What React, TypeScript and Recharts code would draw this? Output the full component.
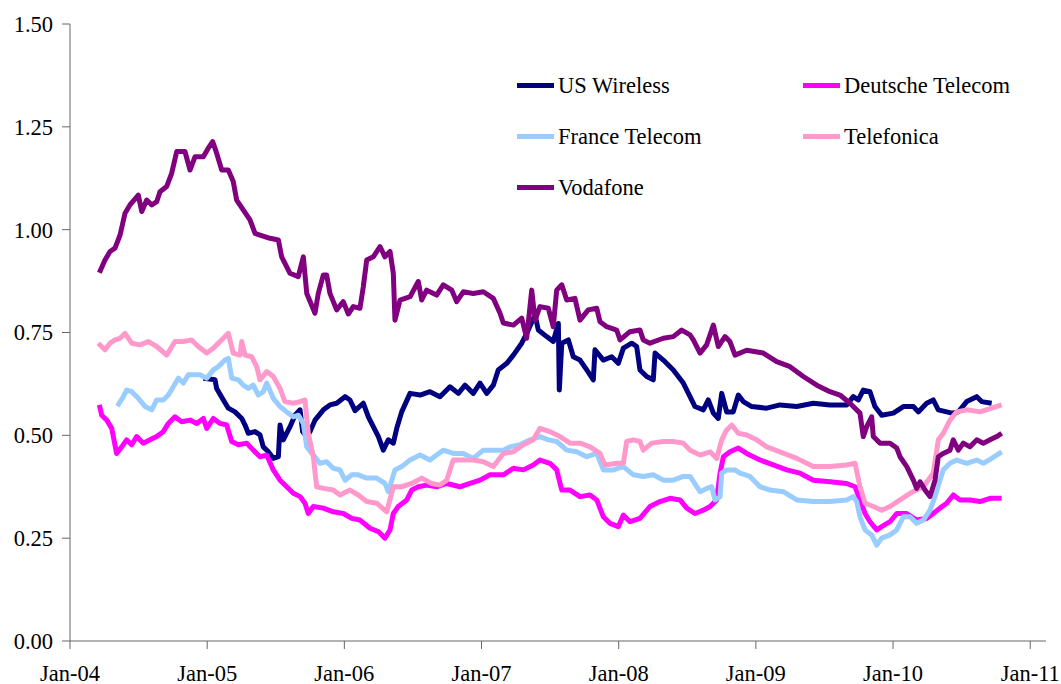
import React from 'react';
import { LineChart, Line, XAxis, YAxis, Legend } from 'recharts';

const FONT = "'Liberation Serif', 'DejaVu Serif', 'Noto Serif', 'Times New Roman', Times, serif";

const seriesNames = ['US Wireless', 'Deutsche Telecom', 'France Telecom', 'Telefonica', 'Vodafone'];
const seriesColors = ['#000080', '#FF00FF', '#99CCFF', '#FF99CC', '#800080'];

const xTicks = [2004, 2005, 2006, 2007, 2008, 2009, 2010, 2011];
const yTicks = [0, 0.25, 0.5, 0.75, 1.0, 1.25, 1.5];

const usWirelessDates = [
  2004.972, 2005.057, 2005.069, 2005.118, 2005.154, 2005.203, 2005.252, 2005.276, 2005.300, 2005.349,
  2005.385, 2005.409, 2005.446, 2005.482, 2005.519, 2005.531, 2005.555, 2005.604, 2005.640, 2005.677,
  2005.696, 2005.726, 2005.750, 2005.786, 2005.847, 2005.895, 2005.944, 2006.005, 2006.041, 2006.078,
  2006.138, 2006.175, 2006.211, 2006.248, 2006.284, 2006.320, 2006.357, 2006.382, 2006.418, 2006.479,
  2006.552, 2006.624, 2006.697, 2006.770, 2006.831, 2006.880, 2006.940, 2006.989, 2007.038, 2007.086,
  2007.122, 2007.184, 2007.232, 2007.293, 2007.341, 2007.390, 2007.414, 2007.475, 2007.523, 2007.560,
  2007.567, 2007.585, 2007.633, 2007.669, 2007.718, 2007.767, 2007.815, 2007.827, 2007.888, 2007.949,
  2007.997, 2008.034, 2008.095, 2008.131, 2008.155, 2008.204, 2008.252, 2008.265, 2008.325, 2008.398,
  2008.471, 2008.520, 2008.556, 2008.617, 2008.653, 2008.690, 2008.726, 2008.751, 2008.787, 2008.835,
  2008.872, 2008.908, 2008.970, 2009.079, 2009.176, 2009.298, 2009.419, 2009.540, 2009.662, 2009.710,
  2009.747, 2009.783, 2009.832, 2009.868, 2009.917, 2010.002, 2010.075, 2010.148, 2010.184, 2010.245,
  2010.293, 2010.330, 2010.391, 2010.428, 2010.476, 2010.537, 2010.610, 2010.646, 2010.719,
];
const usWirelessValues = [
  0.639, 0.635, 0.614, 0.586, 0.566, 0.557, 0.541, 0.525, 0.505, 0.509,
  0.501, 0.472, 0.46, 0.444, 0.448, 0.525, 0.489, 0.521, 0.549, 0.562,
  0.509, 0.497, 0.509, 0.537, 0.562, 0.574, 0.578, 0.594, 0.586, 0.56,
  0.578, 0.545, 0.521, 0.497, 0.464, 0.489, 0.481, 0.517, 0.557, 0.602,
  0.598, 0.606, 0.594, 0.618, 0.602, 0.622, 0.602, 0.627, 0.602, 0.622,
  0.659, 0.675, 0.695, 0.724, 0.756, 0.793, 0.756, 0.74, 0.728, 0.772,
  0.61, 0.724, 0.732, 0.691, 0.683, 0.659, 0.635, 0.708, 0.683, 0.691,
  0.675, 0.712, 0.724, 0.716, 0.659, 0.643, 0.635, 0.70, 0.683, 0.659,
  0.627, 0.594, 0.57, 0.562, 0.586, 0.554, 0.541, 0.602, 0.557, 0.557,
  0.598, 0.582, 0.57, 0.566, 0.574, 0.57, 0.578, 0.574, 0.574, 0.594,
  0.586, 0.61, 0.606, 0.57, 0.549, 0.554, 0.57, 0.57, 0.557, 0.578,
  0.586, 0.562, 0.557, 0.554, 0.557, 0.582, 0.594, 0.582, 0.578,
];

const deutscheDates = [
  2004.214, 2004.231, 2004.268, 2004.304, 2004.340, 2004.377, 2004.413, 2004.450, 2004.486, 2004.534,
  2004.583, 2004.632, 2004.680, 2004.717, 2004.765, 2004.814, 2004.875, 2004.924, 2004.972, 2004.997,
  2005.045, 2005.094, 2005.142, 2005.179, 2005.227, 2005.288, 2005.336, 2005.385, 2005.434, 2005.482,
  2005.531, 2005.580, 2005.628, 2005.677, 2005.713, 2005.737, 2005.774, 2005.847, 2005.919, 2005.992,
  2006.054, 2006.114, 2006.187, 2006.248, 2006.296, 2006.333, 2006.357, 2006.393, 2006.455, 2006.491,
  2006.539, 2006.600, 2006.673, 2006.746, 2006.843, 2006.916, 2006.989, 2007.062, 2007.159, 2007.232,
  2007.305, 2007.377, 2007.426, 2007.499, 2007.548, 2007.585, 2007.645, 2007.718, 2007.791, 2007.840,
  2007.888, 2007.937, 2007.997, 2008.034, 2008.082, 2008.155, 2008.228, 2008.301, 2008.374, 2008.447,
  2008.496, 2008.556, 2008.617, 2008.666, 2008.714, 2008.739, 2008.763, 2008.811, 2008.872, 2008.933,
  2009.030, 2009.127, 2009.225, 2009.322, 2009.419, 2009.540, 2009.662, 2009.723, 2009.759, 2009.796,
  2009.832, 2009.881, 2009.917, 2009.978, 2010.027, 2010.100, 2010.172, 2010.245, 2010.293, 2010.342,
  2010.391, 2010.439, 2010.488, 2010.561, 2010.634, 2010.707, 2010.792,
];
const deutscheValues = [
  0.574, 0.549, 0.537, 0.517, 0.456, 0.472, 0.489, 0.477, 0.497, 0.481,
  0.489, 0.497, 0.509, 0.529, 0.545, 0.533, 0.537, 0.529, 0.541, 0.517,
  0.541, 0.529, 0.525, 0.485, 0.477, 0.481, 0.464, 0.448, 0.452, 0.416,
  0.391, 0.375, 0.359, 0.351, 0.335, 0.31, 0.327, 0.323, 0.314, 0.31,
  0.298, 0.294, 0.274, 0.266, 0.25, 0.27, 0.31, 0.327, 0.343, 0.367,
  0.375, 0.379, 0.375, 0.383, 0.375, 0.383, 0.391, 0.404, 0.404, 0.42,
  0.416, 0.428, 0.44, 0.432, 0.416, 0.367, 0.367, 0.351, 0.355, 0.343,
  0.302, 0.286, 0.278, 0.306, 0.29, 0.298, 0.327, 0.339, 0.347, 0.343,
  0.323, 0.31, 0.318, 0.327, 0.343, 0.408, 0.448, 0.46, 0.469, 0.456,
  0.44, 0.428, 0.416, 0.408, 0.391, 0.387, 0.383, 0.375, 0.343, 0.31,
  0.29, 0.27, 0.278, 0.29, 0.31, 0.31, 0.294, 0.298, 0.31, 0.323,
  0.335, 0.355, 0.343, 0.343, 0.339, 0.347, 0.347,
];

const franceDates = [
  2004.345, 2004.389, 2004.413, 2004.450, 2004.498, 2004.547, 2004.596, 2004.632, 2004.680, 2004.717,
  2004.753, 2004.790, 2004.826, 2004.862, 2004.948, 2004.997, 2005.045, 2005.081, 2005.130, 2005.154,
  2005.179, 2005.227, 2005.263, 2005.300, 2005.336, 2005.373, 2005.409, 2005.434, 2005.482, 2005.531,
  2005.580, 2005.628, 2005.664, 2005.701, 2005.726, 2005.774, 2005.823, 2005.871, 2005.919, 2005.968,
  2006.005, 2006.054, 2006.102, 2006.163, 2006.236, 2006.296, 2006.320, 2006.369, 2006.418, 2006.479,
  2006.552, 2006.624, 2006.673, 2006.721, 2006.794, 2006.867, 2006.940, 2007.013, 2007.086, 2007.159,
  2007.208, 2007.281, 2007.353, 2007.426, 2007.487, 2007.548, 2007.621, 2007.694, 2007.767, 2007.840,
  2007.888, 2007.961, 2008.034, 2008.107, 2008.179, 2008.252, 2008.325, 2008.398, 2008.471, 2008.520,
  2008.593, 2008.641, 2008.678, 2008.702, 2008.739, 2008.751, 2008.787, 2008.848, 2008.884, 2008.957,
  2009.030, 2009.103, 2009.200, 2009.298, 2009.419, 2009.540, 2009.662, 2009.710, 2009.735, 2009.759,
  2009.796, 2009.844, 2009.881, 2009.917, 2009.978, 2010.027, 2010.075, 2010.124, 2010.172, 2010.221,
  2010.269, 2010.306, 2010.342, 2010.366, 2010.415, 2010.464, 2010.537, 2010.610, 2010.658, 2010.719,
  2010.792,
];
const franceValues = [
  0.571, 0.594, 0.61, 0.606, 0.59, 0.57, 0.562, 0.586, 0.586, 0.598,
  0.618, 0.639, 0.627, 0.647, 0.647, 0.639, 0.659, 0.667, 0.683, 0.687,
  0.639, 0.635, 0.622, 0.614, 0.622, 0.598, 0.606, 0.627, 0.59, 0.57,
  0.557, 0.545, 0.549, 0.529, 0.472, 0.452, 0.432, 0.436, 0.42, 0.416,
  0.391, 0.404, 0.404, 0.396, 0.396, 0.383, 0.363, 0.416, 0.424, 0.44,
  0.452, 0.44, 0.452, 0.464, 0.456, 0.456, 0.444, 0.464, 0.464, 0.464,
  0.472, 0.477, 0.489, 0.497, 0.489, 0.485, 0.464, 0.46, 0.448, 0.456,
  0.416, 0.416, 0.424, 0.404, 0.40, 0.404, 0.391, 0.391, 0.40, 0.40,
  0.363, 0.371, 0.375, 0.343, 0.351, 0.408, 0.416, 0.416, 0.408, 0.40,
  0.375, 0.367, 0.363, 0.343, 0.339, 0.339, 0.343, 0.351, 0.339, 0.302,
  0.27, 0.258, 0.233, 0.25, 0.258, 0.27, 0.302, 0.302, 0.286, 0.294,
  0.318, 0.351, 0.391, 0.416, 0.432, 0.44, 0.432, 0.44, 0.432, 0.444,
  0.46,
];

const telefonicaDates = [
  2004.206, 2004.255, 2004.292, 2004.328, 2004.365, 2004.401, 2004.450, 2004.510, 2004.571, 2004.632,
  2004.705, 2004.765, 2004.826, 2004.887, 2004.935, 2004.997, 2005.045, 2005.094, 2005.154, 2005.190,
  2005.239, 2005.252, 2005.276, 2005.325, 2005.361, 2005.385, 2005.434, 2005.482, 2005.531, 2005.567,
  2005.628, 2005.677, 2005.713, 2005.737, 2005.774, 2005.798, 2005.847, 2005.919, 2005.968, 2006.041,
  2006.102, 2006.163, 2006.236, 2006.309, 2006.357, 2006.418, 2006.491, 2006.564, 2006.637, 2006.697,
  2006.746, 2006.794, 2006.867, 2006.940, 2007.013, 2007.086, 2007.159, 2007.232, 2007.305, 2007.377,
  2007.426, 2007.499, 2007.572, 2007.645, 2007.718, 2007.791, 2007.864, 2007.900, 2007.985, 2008.034,
  2008.058, 2008.107, 2008.155, 2008.179, 2008.241, 2008.325, 2008.398, 2008.471, 2008.520, 2008.593,
  2008.666, 2008.714, 2008.751, 2008.787, 2008.824, 2008.872, 2008.933, 2009.006, 2009.079, 2009.176,
  2009.298, 2009.419, 2009.540, 2009.662, 2009.723, 2009.759, 2009.796, 2009.856, 2009.917, 2009.978,
  2010.051, 2010.124, 2010.172, 2010.221, 2010.293, 2010.330, 2010.366, 2010.415, 2010.464, 2010.537,
  2010.634, 2010.719, 2010.792,
];
const telefonicaValues = [
  0.724, 0.708, 0.724, 0.732, 0.736, 0.748, 0.724, 0.72, 0.728, 0.716,
  0.695, 0.728, 0.728, 0.732, 0.716, 0.70, 0.712, 0.728, 0.748, 0.70,
  0.695, 0.728, 0.695, 0.691, 0.667, 0.635, 0.655, 0.643, 0.614, 0.582,
  0.578, 0.582, 0.586, 0.505, 0.448, 0.375, 0.371, 0.367, 0.355, 0.367,
  0.355, 0.339, 0.335, 0.314, 0.375, 0.375, 0.383, 0.396, 0.383, 0.379,
  0.391, 0.44, 0.44, 0.44, 0.436, 0.424, 0.456, 0.46, 0.477, 0.489,
  0.517, 0.509, 0.497, 0.481, 0.481, 0.472, 0.456, 0.428, 0.432, 0.432,
  0.485, 0.489, 0.485, 0.464, 0.481, 0.485, 0.485, 0.481, 0.464, 0.452,
  0.46, 0.444, 0.489, 0.513, 0.525, 0.505, 0.501, 0.489, 0.472, 0.46,
  0.444, 0.424, 0.424, 0.428, 0.432, 0.375, 0.335, 0.327, 0.318, 0.327,
  0.343, 0.359, 0.367, 0.375, 0.408, 0.489, 0.505, 0.537, 0.557, 0.562,
  0.557, 0.566, 0.574,
];

const vodafoneDates = [
  2004.214, 2004.255, 2004.292, 2004.328, 2004.365, 2004.401, 2004.437, 2004.498, 2004.523, 2004.559,
  2004.596, 2004.632, 2004.656, 2004.705, 2004.741, 2004.778, 2004.838, 2004.875, 2004.911, 2004.972,
  2005.008, 2005.040, 2005.069, 2005.106, 2005.154, 2005.190, 2005.215, 2005.263, 2005.312, 2005.349,
  2005.385, 2005.458, 2005.519, 2005.543, 2005.604, 2005.664, 2005.701, 2005.726, 2005.786, 2005.810,
  2005.847, 2005.871, 2005.895, 2005.944, 2005.992, 2006.029, 2006.065, 2006.114, 2006.138, 2006.163,
  2006.211, 2006.260, 2006.296, 2006.333, 2006.357, 2006.369, 2006.406, 2006.479, 2006.539, 2006.564,
  2006.600, 2006.673, 2006.721, 2006.783, 2006.819, 2006.867, 2006.940, 2007.013, 2007.086, 2007.135,
  2007.159, 2007.232, 2007.293, 2007.329, 2007.366, 2007.390, 2007.426, 2007.487, 2007.523, 2007.548,
  2007.585, 2007.621, 2007.681, 2007.718, 2007.778, 2007.840, 2007.864, 2007.913, 2007.985, 2008.010,
  2008.082, 2008.155, 2008.179, 2008.228, 2008.325, 2008.398, 2008.459, 2008.520, 2008.544, 2008.593,
  2008.641, 2008.690, 2008.726, 2008.775, 2008.811, 2008.848, 2008.933, 2009.054, 2009.152, 2009.249,
  2009.346, 2009.444, 2009.540, 2009.613, 2009.686, 2009.759, 2009.783, 2009.808, 2009.844, 2009.856,
  2009.905, 2009.978, 2010.027, 2010.051, 2010.100, 2010.148, 2010.172, 2010.197, 2010.233, 2010.269,
  2010.306, 2010.330, 2010.366, 2010.415, 2010.439, 2010.476, 2010.512, 2010.561, 2010.610, 2010.658,
  2010.707, 2010.756, 2010.792,
];
const vodafoneValues = [
  0.895, 0.926, 0.947, 0.955, 0.987, 1.04, 1.06, 1.084, 1.044, 1.072,
  1.06, 1.068, 1.092, 1.105, 1.137, 1.19, 1.19, 1.145, 1.177, 1.177,
  1.198, 1.214, 1.186, 1.145, 1.145, 1.117, 1.072, 1.048, 1.024, 0.991,
  0.987, 0.979, 0.975, 0.934, 0.894, 0.886, 0.934, 0.845, 0.797, 0.845,
  0.89, 0.89, 0.845, 0.805, 0.825, 0.795, 0.813, 0.809, 0.861, 0.926,
  0.934, 0.959, 0.934, 0.947, 0.894, 0.78, 0.829, 0.837, 0.874, 0.829,
  0.853, 0.841, 0.866, 0.853, 0.825, 0.849, 0.845, 0.849, 0.833, 0.797,
  0.773, 0.768, 0.785, 0.736, 0.853, 0.78, 0.813, 0.809, 0.764, 0.853,
  0.866, 0.829, 0.833, 0.78, 0.805, 0.809, 0.776, 0.764, 0.756, 0.732,
  0.752, 0.756, 0.732, 0.724, 0.736, 0.74, 0.756, 0.744, 0.732, 0.70,
  0.72, 0.768, 0.716, 0.74, 0.728, 0.695, 0.707, 0.70, 0.679, 0.667,
  0.643, 0.622, 0.606, 0.598, 0.578, 0.554, 0.497, 0.521, 0.545, 0.497,
  0.481, 0.481, 0.469, 0.448, 0.424, 0.391, 0.371, 0.387, 0.367, 0.351,
  0.391, 0.448, 0.456, 0.464, 0.489, 0.464, 0.481, 0.472, 0.489, 0.481,
  0.489, 0.497, 0.505,
];

const zip = (dates: number[], values: number[]) => {
  const n = Math.min(dates.length, values.length);
  const out: { t: number; v: number }[] = [];
  for (let i = 0; i < n; i++) out.push({ t: dates[i], v: values[i] });
  return out;
};

const seriesData = [
  zip(usWirelessDates, usWirelessValues),
  zip(deutscheDates, deutscheValues),
  zip(franceDates, franceValues),
  zip(telefonicaDates, telefonicaValues),
  zip(vodafoneDates, vodafoneValues),
];

const renderLegend = () => (
  <div
    style={{
      display: 'grid',
      gridTemplateColumns: '286px 250px',
      gridAutoRows: '51px',
      fontFamily: FONT,
      fontSize: 22.5,
      color: '#000',
    }}
  >
    {seriesNames.map((n, i) => (
      <div key={n} style={{ display: 'flex', alignItems: 'center', whiteSpace: 'nowrap' }}>
        <span style={{ display: 'inline-block', width: 37, height: 5, background: seriesColors[i], marginRight: 4 }} />
        <span>{n}</span>
      </div>
    ))}
  </div>
);

const tickStyle = { fill: '#000', fontSize: 22.5, fontFamily: FONT };

export default function App() {
  return (
    <div style={{ position: 'absolute', left: 0, top: 0, background: '#fff', fontFamily: FONT }}>
      <LineChart width={1061} height={684} margin={{ top: 24, right: 15, bottom: 0, left: 0 }}>
        <XAxis
          type="number"
          dataKey="t"
          domain={[2004, 2011.115]}
          ticks={xTicks}
          interval={0}
          allowDataOverflow
          tickFormatter={(v: number) => `Jan-${String(v % 100).padStart(2, '0')}`}
          tickSize={8}
          tickMargin={16}
          height={43}
          stroke="#666"
          tick={tickStyle}
        />
        <YAxis
          type="number"
          domain={[0, 1.5]}
          ticks={yTicks}
          interval={0}
          allowDataOverflow
          tickFormatter={(v: number) => v.toFixed(2)}
          width={70}
          tickSize={8}
          tickMargin={9}
          stroke="#666"
          tick={tickStyle}
        />
        <Legend
          layout="horizontal"
          verticalAlign="middle"
          align="center"
          content={renderLegend}
          wrapperStyle={{ top: 60, left: 517, width: 540 }}
        />
        {seriesData.map((d, i) => (
          <Line
            key={seriesNames[i]}
            data={d}
            dataKey="v"
            name={seriesNames[i]}
            type="linear"
            stroke={seriesColors[i]}
            strokeWidth={5}
            strokeLinejoin="round"
            dot={false}
            activeDot={false}
            isAnimationActive={false}
          />
        ))}
      </LineChart>
    </div>
  );
}
